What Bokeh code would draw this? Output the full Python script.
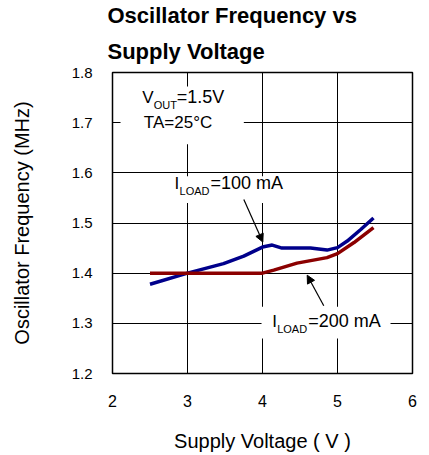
from bokeh.plotting import figure
from bokeh.models import Range1d, FixedTicker, Label, Arrow, NormalHead, Title
from bokeh.embed import file_html
from bokeh.resources import INLINE

# Data
v_100 = [2.5, 3.0, 3.48, 3.75, 4.0, 4.13, 4.26, 4.64, 4.86, 5.0, 5.13, 5.31, 5.48]
f_100 = [1.378, 1.40, 1.419, 1.434, 1.452, 1.456, 1.450, 1.450, 1.446, 1.451, 1.464, 1.487, 1.51]
v_200 = [2.5, 4.0, 4.15, 4.46, 4.86, 5.0, 5.22, 5.48]
f_200 = [1.40, 1.40, 1.406, 1.420, 1.431, 1.439, 1.461, 1.491]
x_ticks = [2, 3, 4, 5, 6]
y_ticks = [1.2, 1.3, 1.4, 1.5, 1.6, 1.7, 1.8]
title_lines = ["Oscillator Frequency vs", "Supply Voltage"]

FONT = "Liberation Sans"

p = figure(width=421, height=455, output_backend="svg", toolbar_location=None,
           x_range=Range1d(2, 6), y_range=Range1d(1.2, 1.8),
           min_border_left=112, min_border_right=9, min_border_top=71, min_border_bottom=82)
p.title = None

# title: two stacked single-line titles (the later one sits higher)
for line, so in ((title_lines[1], 18), (title_lines[0], 0)):
    p.add_layout(Title(text=line, align="left", offset=-5, standoff=so,
                       text_font=FONT, text_font_size="22px", text_font_style="bold",
                       text_color="black"), "above")

p.outline_line_color = "black"
p.outline_line_width = 1.5
p.background_fill_color = "white"
p.border_fill_color = "white"

for ax, ticks in ((p.xaxis[0], x_ticks), (p.yaxis[0], y_ticks)):
    ax.ticker = FixedTicker(ticks=ticks)
    ax.axis_line_color = None
    ax.major_tick_in = 6
    ax.major_tick_out = 0
    ax.major_tick_line_color = "black"
    ax.minor_tick_line_color = None
    ax.major_label_text_font = FONT
    ax.major_label_text_color = "black"
    ax.axis_label_text_font = FONT
    ax.axis_label_text_font_style = "normal"
    ax.axis_label_text_color = "black"

p.xaxis.major_label_text_font_size = "16px"
p.yaxis.major_label_text_font_size = "15px"
p.xaxis.axis_label_text_font_size = "20px"
p.yaxis.axis_label_text_font_size = "20px"
p.xaxis.axis_label = "Supply Voltage ( V )"
p.yaxis.axis_label = "Oscillator Frequency (MHz)"
p.xaxis.major_label_standoff = 21
p.xaxis.axis_label_standoff = 20
p.yaxis.major_label_standoff = 20
p.yaxis.axis_label_standoff = 36

p.grid.grid_line_color = "black"
p.grid.grid_line_width = 1
p.grid.grid_line_alpha = 1

# white boxes behind labels (hide gridlines)
p.quad(left=[2.107, 2.773, 3.987], right=[3.751, 4.387, 5.707],
       top=[1.772, 1.593, 1.333], bottom=[1.657, 1.540, 1.270],
       fill_color="white", line_color=None)

p.line(v_100, f_100, line_color="#00008B", line_width=3.5)
p.line(v_200, f_200, line_color="#8B0000", line_width=3.5)

def sub_label(x, y, main, sub, rest):
    common = dict(text_font=FONT, text_color="black")
    p.add_layout(Label(x=x, y=y, text=main, text_font_size="17px", **common))
    w_main = 11.5 if main == "V" else 5.0
    p.add_layout(Label(x=x, y=y, x_offset=w_main, y_offset=-4, text=sub,
                       text_font_size="11px", **common))
    w_sub = {"OUT": 23, "LOAD": 31}[sub]
    p.add_layout(Label(x=x, y=y, x_offset=w_main + w_sub, text=rest,
                       text_font_size="18px", **common))

sub_label(2.396, 1.732, "V", "OUT", "=1.5V")
p.add_layout(Label(x=2.418, y=1.681, text="TA=25°C", text_font=FONT,
                   text_font_size="17px", text_color="black"))
sub_label(2.827, 1.559, "I", "LOAD", "=100 mA")
sub_label(4.129, 1.284, "I", "LOAD", "=200 mA")

p.add_layout(Arrow(x_start=3.751, y_start=1.547, x_end=4.004, y_end=1.462,
                   line_color="black", line_width=1.2,
                   end=NormalHead(size=8, fill_color="black", line_color="black")))
p.add_layout(Arrow(x_start=4.817, y_start=1.335, x_end=4.596, y_end=1.396,
                   line_color="black", line_width=1.2,
                   end=NormalHead(size=8, fill_color="black", line_color="black")))

open("out.html", "w").write(file_html(p, INLINE))
